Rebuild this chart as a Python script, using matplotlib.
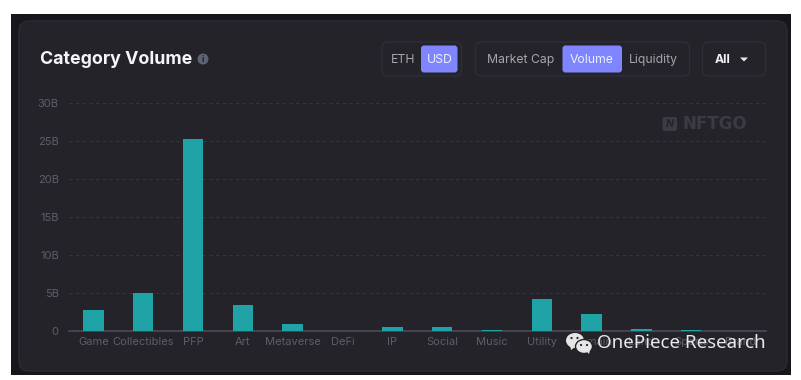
import matplotlib
matplotlib.use("Agg")
import matplotlib.pyplot as plt
from matplotlib.patches import Rectangle, FancyBboxPatch, Circle, Ellipse, Polygon

categories = ["Game", "Collectibles", "PFP", "Art", "Metaverse", "DeFi", "IP", "Social",
              "Music", "Utility", "Domain", "Land", "Sports", "Brand"]
volume = [2.7, 5.0, 25.2, 3.4, 0.87, 0.02, 0.55, 0.47, 0.15, 4.15, 2.2, 0.2, 0.17, 0.03]
yticks = [0, 5, 10, 15, 20, 25, 30]
yticklabels = ["0", "5B", "10B", "15B", "20B", "25B", "30B"]

W, H = 801, 380
FONT = "Inter"
plt.rcParams["font.family"] = [FONT, "DejaVu Sans"]

fig = plt.figure(figsize=(W / 100, H / 100), dpi=100, facecolor="white")


def pixel_axes(z):
    a = fig.add_axes([0, 0, 1, 1], zorder=z)
    a.set_xlim(0, W)
    a.set_ylim(H, 0)
    a.axis("off")
    return a


def box(a, x0, y0, x1, y1, r, fc, ec="none", lw=1):
    a.add_patch(FancyBboxPatch((x0 + r, y0 + r), x1 - x0 - 2 * r, y1 - y0 - 2 * r,
                               boxstyle=f"round,pad={r},rounding_size={r}",
                               fc=fc, ec=ec, lw=lw))


# page and card
bg = pixel_axes(0)
bg.add_patch(Rectangle((11, 14), 780, 361, fc="#16161c", ec="none"))
box(bg, 19, 21, 787, 371, 10, "#232329", "#2b2c33")

bg.text(40, 59, "Category Volume", color="#f4f5f7", fontsize=12.8, fontweight="bold", va="center")
bg.add_patch(Circle((203, 59), 5.5, fc="#5f6274", ec="none"))
bg.text(203, 59, "i", color="#232329", fontsize=6.5, fontweight="bold", ha="center", va="center")

# toggles
box(bg, 382, 42, 461.5, 76, 6, "none", "#2e2f36")
box(bg, 475.5, 42, 689.5, 76, 6, "none", "#2e2f36")
box(bg, 702.5, 42, 765.5, 76, 6, "none", "#2e2f36")
box(bg, 421, 45.5, 457.5, 72.5, 3, "#7f85ff")
box(bg, 562.5, 45.5, 622, 72.5, 3, "#7f85ff")
for x, s, c in [(403, "ETH", "#a5a6ad"), (439.5, "USD", "#eceeff"), (521, "Market Cap", "#a5a6ad"),
                (592, "Volume", "#eceeff"), (653, "Liquidity", "#a5a6ad")]:
    bg.text(x, 60, s, color=c, fontsize=8.8, ha="center", va="center")
bg.text(723, 60, "All", color="#f2f2f4", fontsize=8.8, fontweight="bold", ha="center", va="center")
bg.add_patch(Polygon([(740, 57.5), (748, 57.5), (744, 61.5)], fc="#e8e8ea", ec="none"))

# NFTGO mark
box(bg, 662.5, 117, 677, 131, 2, "#3b3c43")
bg.text(669.7, 124, "N", color="#232329", fontsize=7.5, fontweight="bold", style="italic", ha="center", va="center")
bg.text(682, 124, "NFTGO", color="#3b3c43", fontsize=12, fontweight="bold", va="center",
        family=["DejaVu Sans"])

# chart
left, right, top, bottom = 68.5, 766, 103, 331
ax = fig.add_axes([left / W, 1 - bottom / H, (right - left) / W, (bottom - top) / H], zorder=1)
ax.patch.set_alpha(0)
ax.bar(range(len(categories)), volume, width=0.41, color="#1fa3a6", zorder=3)
ax.set_xlim(-0.5, len(categories) - 0.5)
ax.set_ylim(0, 30)
ax.set_yticks(yticks)
ax.set_yticklabels(yticklabels)
ax.set_xticks(range(len(categories)))
ax.set_xticklabels(categories)
ax.tick_params(axis="y", length=0, pad=7, labelsize=8, labelcolor="#5d5e68")
ax.tick_params(axis="x", length=0, pad=4.5, labelsize=8, labelcolor="#5d5e68")
ax.yaxis.grid(True, color="#35363d", linestyle=(0, (3, 3)), linewidth=0.8, zorder=0)
for s in ["top", "left", "right"]:
    ax.spines[s].set_visible(False)
ax.spines["bottom"].set_color("#4a4b55")
ax.spines["bottom"].set_linewidth(1.2)

# wechat watermark
wm = pixel_axes(2)
wm.add_patch(Ellipse((575, 340.5), 18, 15, fc="#e6e6e6", ec="none"))
wm.add_patch(Polygon([(570, 345), (575, 347), (571, 350)], fc="#e6e6e6", ec="none"))
wm.add_patch(Ellipse((584, 346.5), 17, 14, fc="#e6e6e6", ec="#232329", lw=1))
wm.add_patch(Polygon([(586, 351), (590, 350), (589, 354)], fc="#e6e6e6", ec="none"))
for x, y in [(571.5, 338), (577.5, 338), (581, 345), (587, 345)]:
    wm.add_patch(Circle((x, y), 1.1, fc="#232329", ec="none"))
wm.text(597, 343, "OnePiece Research", color="#e8e8e8", fontsize=13.5, va="center",
        family=["Noto Sans", "DejaVu Sans"])

fig.savefig("out.png", dpi=100)
